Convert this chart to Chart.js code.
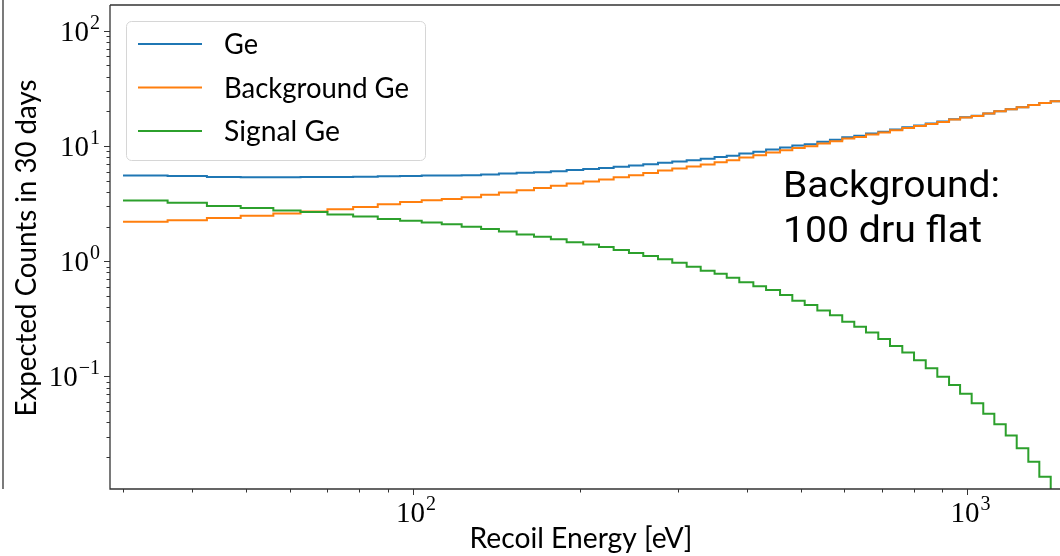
<!DOCTYPE html>
<html>
<head>
<meta charset="utf-8">
<script src="https://cdn.jsdelivr.net/npm/chart.js@4.4.1/dist/chart.umd.min.js"></script>
<style>
  html, body { margin: 0; padding: 0; background: #fff; overflow: hidden; }
</style>
</head>
<body>
<canvas id="spectrumChart" width="1060" height="556"></canvas>
<script>
// bin edges in eV (58 edges -> 57 bins)
const binEdges = [30, 36.1, 42.5, 48.9, 56.0, 62.7, 70.1, 78.0, 86.4, 94.8,
    103.7, 112.7, 122.4, 132.7, 142.9, 153.8, 165.3, 177.3, 189.3, 202.8,
    216.5, 230.1, 245.2, 260.2, 276.6, 293.5, 311.6, 330.3, 349.9, 368.0,
    387.7, 411.0, 433.3, 459.2, 483.2, 508.7, 536.1, 564.9, 594.5, 625.0,
    656.1, 690.5, 724.9, 762.9, 801.0, 840.9, 882.3, 926.4, 969.8, 1017.6,
    1067.8, 1118.0, 1172.2, 1226.9, 1287.5, 1347.7, 1413.0, 1480.8];

const totalGe = [5.56, 5.48, 5.39, 5.36, 5.36, 5.37, 5.38, 5.41, 5.46, 5.50,
    5.56, 5.54, 5.58, 5.67, 5.77, 5.85, 5.93, 6.05, 6.19, 6.32,
    6.45, 6.61, 6.76, 6.95, 7.17, 7.35, 7.54, 7.74, 8.01, 8.25,
    8.61, 8.93, 9.34, 9.70, 10.08, 10.38, 10.88, 11.34, 11.91, 12.26,
    12.82, 13.30, 13.89, 14.52, 15.08, 15.67, 16.28, 17.06, 17.74, 18.30,
    19.18, 20.07, 20.88, 21.72, 22.74, 23.66, 24.48];

const backgroundGe = [2.20, 2.27, 2.37, 2.48, 2.60, 2.70, 2.83, 2.96, 3.13, 3.26,
    3.39, 3.46, 3.60, 3.77, 3.95, 4.14, 4.31, 4.51, 4.73, 4.92,
    5.12, 5.36, 5.58, 5.84, 6.13, 6.38, 6.64, 6.91, 7.24, 7.53,
    7.95, 8.32, 8.78, 9.19, 9.63, 9.96, 10.51, 11.0, 11.61, 11.99,
    12.58, 13.09, 13.71, 14.36, 14.94, 15.55, 16.18, 16.98, 17.67, 18.24,
    19.13, 20.03, 20.85, 21.7, 22.72, 23.65, 24.47];

const signalGe = [3.37, 3.21, 3.02, 2.89, 2.76, 2.67, 2.55, 2.45, 2.33, 2.24,
    2.17, 2.09, 1.99, 1.90, 1.81, 1.71, 1.63, 1.55, 1.46, 1.40,
    1.33, 1.25, 1.18, 1.11, 1.04, 0.968, 0.894, 0.826, 0.777, 0.718,
    0.656, 0.608, 0.562, 0.508, 0.453, 0.416, 0.374, 0.339, 0.298, 0.270,
    0.241, 0.211, 0.184, 0.161, 0.138, 0.118, 0.0994, 0.0842, 0.0708, 0.0584,
    0.0475, 0.0384, 0.0308, 0.0238, 0.0182, 0.0135, 0.0095];

const seriesLabels = ["Ge", "Background Ge", "Signal Ge"];
const xAxisTitle = "Recoil Energy [eV]";
const yAxisTitle = "Expected Counts in 30 days";
const noteLines = ["Background:", "100 dru flat"];
const yTickPowers = [-1, 0, 1, 2];
const xTickPowers = [2, 3];

const colors = ["#1f77b4", "#ff7f0e", "#2ca02c"];

// histogram outline: one point per left edge plus the last right edge
function stepPoints(values) {
    return binEdges.map((e, i) => ({ x: e, y: values[Math.min(i, values.length - 1)] }));
}

const labelFont = "Lato, 'DejaVu Sans', sans-serif";
const tickFont = "'Liberation Serif', 'DejaVu Serif', serif";

// draw text squeezed/stretched horizontally to a given width (LaTeX font is wider)
function fitText(ctx, text, x, y, font, width, align) {
    ctx.font = font;
    const w = ctx.measureText(text).width;
    const k = width / w;
    ctx.save();
    ctx.translate(x, y);
    ctx.scale(k, 1);
    ctx.textAlign = align || "left";
    ctx.fillText(text, 0, 0);
    ctx.restore();
}

function drawPow(ctx, exp, x, y, align) {
    // "10" with a raised exponent; y is the vertical centre of the digits
    const expText = exp < 0 ? "\u2212" + (-exp) : String(exp);
    ctx.font = "29px " + tickFont;
    const baseW = ctx.measureText("10").width;
    ctx.font = "20px " + tickFont;
    const expW = ctx.measureText(expText).width;
    const left = align === "right" ? x - baseW - expW - 1 : x - (baseW + expW + 1) / 2;
    ctx.textAlign = "left";
    ctx.textBaseline = "alphabetic";
    ctx.font = "29px " + tickFont;
    ctx.fillText("10", left, y + 10);
    ctx.font = "20px " + tickFont;
    ctx.fillText(expText, left + baseW + 1, y - 2);
}

const axesPlugin = {
    id: "mplAxes",
    afterDraw(chart) {
        const ctx = chart.ctx;
        const a = chart.chartArea;
        const xs = chart.scales.x, ys = chart.scales.y;
        ctx.save();

        // spines
        ctx.strokeStyle = "#333";
        ctx.lineWidth = 1.3;
        ctx.beginPath();
        ctx.moveTo(a.left, a.top); ctx.lineTo(a.right, a.top);
        ctx.moveTo(a.left, a.top); ctx.lineTo(a.left, a.bottom);
        ctx.lineTo(a.right, a.bottom);
        ctx.stroke();
        // edge of the neighbouring panel
        ctx.beginPath();
        ctx.moveTo(3, 0); ctx.lineTo(3, a.bottom);
        ctx.stroke();

        // log ticks
        ctx.lineWidth = 1;
        ctx.beginPath();
        for (let e = Math.floor(Math.log10(xs.min)); e <= Math.ceil(Math.log10(xs.max)); e++) {
            for (let m = 1; m <= 9; m++) {
                const v = m * Math.pow(10, e);
                if (v < xs.min || v > xs.max) continue;
                const px = Math.round(xs.getPixelForValue(v)) + 0.5;
                ctx.moveTo(px, a.bottom);
                ctx.lineTo(px, a.bottom + (m === 1 ? 6 : 3.5));
            }
        }
        for (let e = Math.floor(Math.log10(ys.min)); e <= Math.ceil(Math.log10(ys.max)); e++) {
            for (let m = 1; m <= 9; m++) {
                const v = m * Math.pow(10, e);
                if (v < ys.min || v > ys.max) continue;
                const py = Math.round(ys.getPixelForValue(v)) + 0.5;
                ctx.moveTo(a.left, py);
                ctx.lineTo(a.left - (m === 1 ? 6 : 3.5), py);
            }
        }
        ctx.stroke();

        // tick labels
        ctx.fillStyle = "#000";
        yTickPowers.forEach(e => drawPow(ctx, e, a.left - 10, ys.getPixelForValue(Math.pow(10, e)), "right"));
        xTickPowers.forEach(e => drawPow(ctx, e, xs.getPixelForValue(Math.pow(10, e)) + 3, a.bottom + 23, "center"));

        // axis titles
        ctx.textBaseline = "alphabetic";
        fitText(ctx, xAxisTitle, 581, 548, "29px " + labelFont, 223, "center");
        ctx.save();
        ctx.translate(36, 248);
        ctx.rotate(-Math.PI / 2);
        fitText(ctx, yAxisTitle, 0, 0, "29px " + labelFont, 337, "center");
        ctx.restore();

        // legend box
        const lx = 126, ly = 21, lw = 299, lh = 139;
        ctx.beginPath();
        ctx.roundRect(lx + 0.5, ly + 0.5, lw, lh, 5);
        ctx.fillStyle = "rgba(255,255,255,0.8)";
        ctx.fill();
        ctx.strokeStyle = "#d6d6d6";
        ctx.lineWidth = 1;
        ctx.stroke();
        const legendWidths = [34, 185, 116];
        chart.data.datasets.forEach((ds, i) => {
            const y = 44 + i * 43.5;
            ctx.strokeStyle = ds.borderColor;
            ctx.lineWidth = 2;
            ctx.beginPath();
            ctx.moveTo(138, y); ctx.lineTo(202, y);
            ctx.stroke();
            ctx.fillStyle = "#000";
            ctx.textBaseline = "alphabetic";
            fitText(ctx, ds.label, 224, y + 10, "29px " + labelFont, legendWidths[i], "left");
        });

        // note
        ctx.fillStyle = "#000";
        ctx.textBaseline = "alphabetic";
        fitText(ctx, noteLines[0], 783, 197, "36px Roboto, sans-serif", 217, "left");
        fitText(ctx, noteLines[1], 783, 242, "36px Roboto, sans-serif", 199, "left");

        ctx.restore();
    }
};

const ctx = document.getElementById("spectrumChart").getContext("2d");
new Chart(ctx, {
    type: "line",
    data: {
        datasets: [
            { label: seriesLabels[0], data: stepPoints(totalGe), borderColor: colors[0], order: 3 },
            { label: seriesLabels[1], data: stepPoints(backgroundGe), borderColor: colors[1], order: 2 },
            { label: seriesLabels[2], data: stepPoints(signalGe), borderColor: colors[2], order: 1 }
        ]
    },
    options: {
        responsive: false,
        animation: false,
        devicePixelRatio: 1,
        layout: { padding: { left: 110, top: 5, right: 0, bottom: 67 } },
        elements: {
            line: { borderWidth: 2, stepped: "before", tension: 0, fill: false },
            point: { radius: 0, hoverRadius: 0 }
        },
        plugins: { legend: { display: false }, tooltip: { enabled: false }, title: { display: false } },
        scales: {
            x: { type: "logarithmic", display: false, min: 28.42, max: 1468.5 },
            y: { type: "logarithmic", display: false, min: 0.01055, max: 167.4 }
        }
    },
    plugins: [axesPlugin]
});
</script>
</body>
</html>
